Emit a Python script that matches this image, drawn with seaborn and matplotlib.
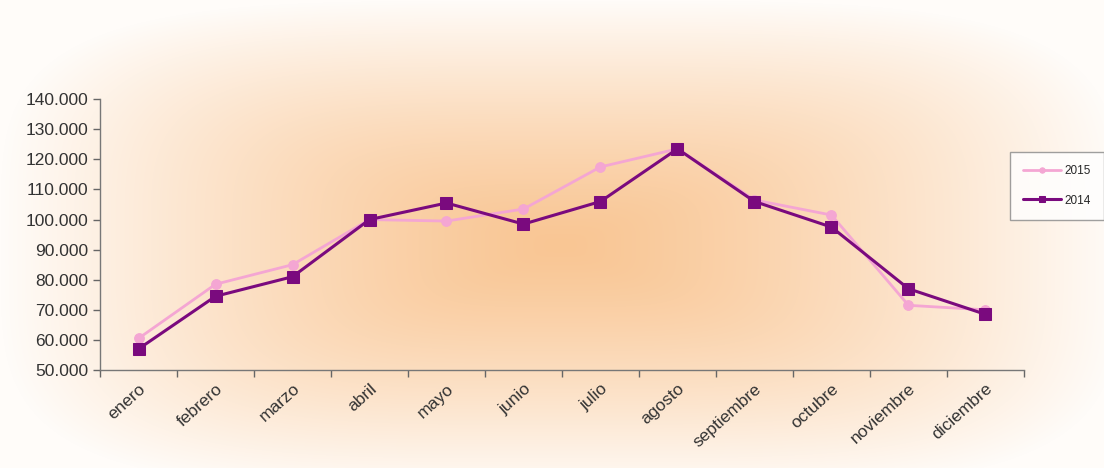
import numpy as np
import pandas as pd
import matplotlib
matplotlib.use("Agg")
import matplotlib.pyplot as plt
import seaborn as sns
from matplotlib.ticker import FuncFormatter, FixedLocator

months = ["enero", "febrero", "marzo", "abril", "mayo", "junio", "julio",
          "agosto", "septiembre", "octubre", "noviembre", "diciembre"]
v2015 = [60500, 78500, 85000, 100000, 99500, 103500, 117500, 123500, 106500, 101500, 71500, 70000]
v2014 = [57000, 74500, 81000, 100000, 105500, 98500, 106000, 123500, 106000, 97500, 77000, 68500]
series_names = ["2015", "2014"]

sns.set_theme(style="white")
plt.rcParams['font.family'] = ['Liberation Sans', 'DejaVu Sans']

fig = plt.figure(figsize=(11.04, 4.68), dpi=100)

# background gradient (rectangular, from centre)
bg = fig.add_axes([0, 0, 1, 1], zorder=0)
H, W = 468, 1104
yy, xx = np.mgrid[0:H, 0:W]
cx, cy = 560, 245
dx = np.abs(xx - cx) / 560.0
dy = np.abs(yy - cy) / 245.0
d = (dx ** 4 + dy ** 4) ** 0.25
d = np.clip(d, 0, 1) ** 1.3
c_center = np.array([249, 198, 148]) / 255.0
c_edge = np.array([255, 252, 249]) / 255.0
img = c_center[None, None, :] * (1 - d[..., None]) + c_edge[None, None, :] * d[..., None]
bg.imshow(img, aspect="auto", extent=[0, 1, 0, 1])
bg.axis("off")

ax = fig.add_axes([0.0906, 0.2094, 0.8369, 0.5786], zorder=1)
ax.patch.set_alpha(0)

df = pd.DataFrame({"mes": list(range(12)) * 2,
                   "valor": v2015 + v2014,
                   "serie": [series_names[0]] * 12 + [series_names[1]] * 12})

sns.lineplot(data=df[df.serie == "2015"], x="mes", y="valor", ax=ax,
             color="#F4A6D3", linewidth=2, marker="o", markersize=7,
             markeredgecolor="#F4A6D3", label="2015")
sns.lineplot(data=df[df.serie == "2014"], x="mes", y="valor", ax=ax,
             color="#7A0A7E", linewidth=2.2, marker="s", markersize=9,
             markeredgecolor="#7A0A7E", label="2014")

ax.set_xlim(-0.5, 11.5)
ax.set_ylim(50000, 140000)
ax.set_yticks(np.arange(50000, 140001, 10000))
ax.yaxis.set_major_formatter(FuncFormatter(lambda v, p: f"{int(v):,}".replace(",", ".")))
ax.set_xticks(range(12))
ax.set_xticklabels(months, rotation=42, ha="right", rotation_mode="anchor")
ax.xaxis.set_minor_locator(FixedLocator(np.arange(-0.5, 12, 1)))
ax.tick_params(axis="x", which="major", length=0, pad=8, labelsize=12.5, colors="#333333")
ax.tick_params(axis="x", which="minor", length=5, width=1, color="#666666", direction="out", bottom=True)
ax.tick_params(axis="y", length=5, width=1, color="#666666", direction="out", left=True, labelsize=12.5, colors="#333333")
ax.set_xlabel("")
ax.set_ylabel("")
for s in ["top", "right"]:
    ax.spines[s].set_visible(False)
for s in ["left", "bottom"]:
    ax.spines[s].set_color("#777777")
    ax.spines[s].set_linewidth(1)

ax.legend_.remove()
h, l = ax.get_legend_handles_labels()
leg = fig.legend(h, l, loc="upper left", bbox_to_anchor=(1004 / 1104, 1 - 146 / 468),
                 frameon=True, fontsize=8.5, fancybox=False, handlelength=3.2,
                 borderpad=1.1, labelspacing=1.5, markerscale=0.55, handletextpad=0.3)
leg.get_frame().set_edgecolor("#888888")
leg.get_frame().set_facecolor("white")

fig.savefig("out.png", dpi=100)
